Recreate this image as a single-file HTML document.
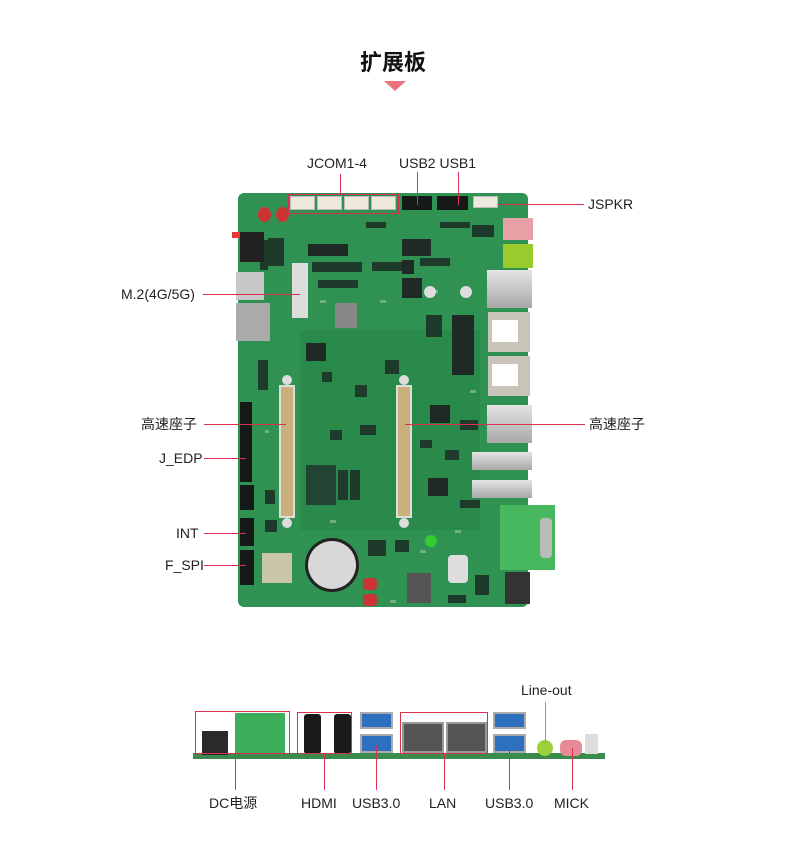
<!DOCTYPE html>
<html><head><meta charset="utf-8"><style>
body{margin:0;width:790px;height:850px;background:#fff;position:relative;overflow:hidden;font-family:"Liberation Sans","Noto Sans CJK SC",sans-serif;}
div{position:absolute;box-sizing:border-box;}
.t{font-size:14px;color:#222;white-space:nowrap;line-height:16px;}
.h{height:1px;background:#d8304f;}
.v{width:1px;background:#d8304f;}
.box{border:1px solid #d8304f;}
.chip{background:#1f2a26;}
.hdr{background:#151a18;}
.silver{background:linear-gradient(#e4e4e4,#a8a8a8);}
.wh{background:#eee9dc;border:1px solid #bbb;}
</style></head><body>
<div class="t" style="left:360px;top:50px;font-size:22px;font-weight:bold;line-height:26px;color:#111;">扩展板</div>
<div style="left:384px;top:81px;width:0;height:0;border-left:11px solid transparent;border-right:11px solid transparent;border-top:10px solid #e9737f;"></div>

<!-- board -->
<div style="left:238px;top:193px;width:290px;height:414px;background:#2f9152;border-radius:6px;"></div>
<div style="left:300px;top:330px;width:180px;height:200px;background:#2a8a4c;"></div>
<svg style="position:absolute;left:0;top:0" width="790" height="850">
<g fill="#1d3a2a">
<rect x="312" y="262" width="50" height="10"/><rect x="318" y="280" width="40" height="8"/>
<rect x="372" y="262" width="30" height="9"/><rect x="420" y="258" width="30" height="8"/>
<rect x="260" y="240" width="8" height="30"/><rect x="268" y="238" width="16" height="28"/>
<rect x="366" y="222" width="20" height="6"/><rect x="440" y="222" width="30" height="6"/>
<rect x="472" y="225" width="22" height="12"/><rect x="426" y="315" width="16" height="22"/>
<rect x="385" y="360" width="14" height="14"/><rect x="322" y="372" width="10" height="10"/>
<rect x="355" y="385" width="12" height="12"/><rect x="420" y="440" width="12" height="8"/>
<rect x="445" y="450" width="14" height="10"/><rect x="460" y="500" width="20" height="8"/>
<rect x="338" y="470" width="10" height="30"/><rect x="350" y="470" width="10" height="30"/>
<rect x="368" y="540" width="18" height="16"/><rect x="395" y="540" width="14" height="12"/>
<rect x="475" y="575" width="14" height="20"/><rect x="258" y="360" width="10" height="30"/>
<rect x="265" y="520" width="12" height="12"/><rect x="265" y="490" width="10" height="14"/>
<rect x="460" y="420" width="18" height="10"/><rect x="448" y="595" width="18" height="8"/>
<rect x="330" y="430" width="12" height="10"/><rect x="360" y="425" width="16" height="10"/>
</g>
<g fill="#9fc3a8" opacity="0.6">
<rect x="320" y="300" width="6" height="3"/><rect x="380" y="300" width="6" height="3"/><rect x="432" y="290" width="6" height="3"/>
<rect x="470" y="390" width="6" height="3"/><rect x="455" y="530" width="6" height="3"/><rect x="330" y="520" width="6" height="3"/>
<rect x="265" y="430" width="4" height="3"/><rect x="420" y="550" width="6" height="3"/><rect x="390" y="600" width="6" height="3"/>
</g>
<circle cx="430" cy="292" r="6" fill="#ddd"/><circle cx="466" cy="292" r="6" fill="#ddd"/>
<circle cx="287" cy="380" r="5" fill="#ddd"/><circle cx="404" cy="380" r="5" fill="#ddd"/>
<circle cx="287" cy="523" r="5" fill="#ddd"/><circle cx="404" cy="523" r="5" fill="#ddd"/>
<circle cx="431" cy="541" r="6" fill="#3c3"/>
</svg>
<!-- JCOM connectors -->
<div class="wh" style="left:290px;top:196px;width:25px;height:14px"></div>
<div class="wh" style="left:317px;top:196px;width:25px;height:14px"></div>
<div class="wh" style="left:344px;top:196px;width:25px;height:14px"></div>
<div class="wh" style="left:371px;top:196px;width:25px;height:14px"></div>
<div class="hdr" style="left:402px;top:196px;width:30px;height:14px"></div>
<div class="hdr" style="left:437px;top:196px;width:31px;height:14px"></div>
<div class="wh" style="left:473px;top:196px;width:25px;height:12px"></div>
<!-- audio jacks -->
<div style="left:503px;top:218px;width:30px;height:22px;background:#e7a0a6;"></div>
<div style="left:503px;top:244px;width:30px;height:24px;background:#9acb2c;"></div>
<!-- right IO -->
<div class="silver" style="left:487px;top:270px;width:45px;height:38px;"></div>
<div style="left:488px;top:312px;width:42px;height:40px;background:#c9c4b8;"></div>
<div style="left:492px;top:320px;width:26px;height:22px;background:#fff;"></div>
<div style="left:488px;top:356px;width:42px;height:40px;background:#c9c4b8;"></div>
<div style="left:492px;top:364px;width:26px;height:22px;background:#fff;"></div>
<div class="silver" style="left:487px;top:405px;width:45px;height:38px;"></div>
<div class="silver" style="left:472px;top:452px;width:60px;height:18px;"></div>
<div class="silver" style="left:472px;top:480px;width:60px;height:18px;"></div>
<div style="left:500px;top:505px;width:55px;height:65px;background:#47b85f;"></div>
<div style="left:540px;top:518px;width:12px;height:40px;background:#bbb;border-radius:4px"></div>
<div style="left:505px;top:572px;width:25px;height:32px;background:#333;"></div>
<!-- left side -->
<div style="left:236px;top:272px;width:28px;height:28px;background:#c8c8c8;"></div>
<div style="left:236px;top:303px;width:34px;height:38px;background:#aaa;"></div>
<div style="left:232px;top:232px;width:10px;height:6px;background:#e33;"></div>
<div style="left:240px;top:232px;width:24px;height:30px;background:#222;"></div>
<div style="left:258px;top:207px;width:13px;height:15px;background:#c33;border-radius:50%"></div>
<div style="left:276px;top:207px;width:13px;height:15px;background:#c33;border-radius:50%"></div>
<div style="left:292px;top:263px;width:16px;height:55px;background:#ddd;"></div>
<div class="hdr" style="left:240px;top:402px;width:12px;height:80px;"></div>
<div class="hdr" style="left:240px;top:485px;width:14px;height:25px;"></div>
<div class="hdr" style="left:240px;top:518px;width:14px;height:28px;"></div>
<div class="hdr" style="left:240px;top:550px;width:14px;height:35px;"></div>
<div style="left:262px;top:553px;width:30px;height:30px;background:#c9c5a8;"></div>
<!-- chips -->
<div class="chip" style="left:308px;top:244px;width:40px;height:12px"></div>
<div class="chip" style="left:402px;top:239px;width:29px;height:17px"></div>
<div class="chip" style="left:402px;top:260px;width:12px;height:14px"></div>
<div class="chip" style="left:402px;top:278px;width:20px;height:20px"></div>
<div class="chip" style="left:335px;top:303px;width:22px;height:25px;background:#888"></div>
<div class="chip" style="left:306px;top:343px;width:20px;height:18px"></div>
<div class="chip" style="left:452px;top:315px;width:22px;height:60px"></div>
<div class="chip" style="left:430px;top:405px;width:20px;height:18px"></div>
<div class="chip" style="left:428px;top:478px;width:20px;height:18px"></div>
<div class="chip" style="left:306px;top:465px;width:30px;height:40px;background:#243"></div>
<div style="left:407px;top:573px;width:24px;height:30px;background:#555;"></div>
<div style="left:448px;top:555px;width:20px;height:28px;background:#ddd;border-radius:4px"></div>
<!-- high speed sockets -->
<div style="left:279px;top:385px;width:16px;height:133px;background:#c9b07a;border:2px solid #ddd"></div>
<div style="left:396px;top:385px;width:16px;height:133px;background:#c9b07a;border:2px solid #ddd"></div>
<!-- battery -->
<div style="left:305px;top:538px;width:54px;height:54px;background:#222;border-radius:50%"></div>
<div style="left:308px;top:541px;width:48px;height:48px;background:#d8d8d8;border-radius:50%"></div>
<div style="left:363px;top:578px;width:14px;height:12px;background:#c33;border-radius:4px"></div>
<div style="left:363px;top:594px;width:14px;height:12px;background:#c33;border-radius:4px"></div>

<!-- labels top -->
<div class="t" style="left:307px;top:155px;">JCOM1-4</div>
<div class="t" style="left:399px;top:155px;">USB2 USB1</div>
<div class="box" style="left:288px;top:194px;width:111px;height:20px;"></div>
<div class="v" style="left:340px;top:174px;height:20px;"></div>
<div class="v" style="left:417px;top:172px;height:33px;"></div>
<div class="v" style="left:458px;top:172px;height:33px;"></div>
<div class="h" style="left:498px;top:204px;width:86px;"></div>
<div class="t" style="left:588px;top:196px;">JSPKR</div>
<div class="t" style="left:121px;top:286px;">M.2(4G/5G)</div>
<div class="h" style="left:203px;top:294px;width:97px;"></div>
<div class="t" style="left:141px;top:416px;">高速座子</div>
<div class="h" style="left:204px;top:424px;width:82px;"></div>
<div class="h" style="left:405px;top:424px;width:180px;"></div>
<div class="t" style="left:589px;top:416px;">高速座子</div>
<div class="t" style="left:159px;top:450px;">J_EDP</div>
<div class="h" style="left:204px;top:458px;width:42px;"></div>
<div class="t" style="left:176px;top:525px;">INT</div>
<div class="h" style="left:204px;top:533px;width:42px;"></div>
<div class="t" style="left:165px;top:557px;">F_SPI</div>
<div class="h" style="left:204px;top:565px;width:42px;"></div>

<!-- bottom strip -->
<div style="left:193px;top:753px;width:412px;height:6px;background:#3a8b4c;"></div>
<div style="left:202px;top:731px;width:26px;height:24px;background:#2a2a2a;"></div>
<div style="left:235px;top:713px;width:50px;height:40px;background:#3cae5a;"></div>
<div style="left:304px;top:714px;width:17px;height:40px;background:#1a1a1a;border-radius:3px"></div>
<div style="left:334px;top:714px;width:17px;height:40px;background:#1a1a1a;border-radius:3px"></div>
<div style="left:360px;top:712px;width:33px;height:17px;background:#2f6fc0;border:2px solid #aaa"></div>
<div style="left:360px;top:734px;width:33px;height:19px;background:#2f6fc0;border:2px solid #aaa"></div>
<div style="left:402px;top:722px;width:42px;height:31px;background:#555;border:2px solid #999"></div>
<div style="left:446px;top:722px;width:41px;height:31px;background:#555;border:2px solid #999"></div>
<div style="left:493px;top:712px;width:33px;height:17px;background:#2f6fc0;border:2px solid #aaa"></div>
<div style="left:493px;top:734px;width:33px;height:19px;background:#2f6fc0;border:2px solid #aaa"></div>
<div style="left:537px;top:740px;width:16px;height:16px;background:#9cd03a;border-radius:50%"></div>
<div style="left:560px;top:740px;width:22px;height:16px;background:#e78a98;border-radius:6px"></div>
<div style="left:585px;top:734px;width:13px;height:20px;background:#ddd;"></div>
<div class="box" style="left:195px;top:711px;width:95px;height:43px;"></div>
<div class="box" style="left:297px;top:712px;width:55px;height:42px;"></div>
<div class="box" style="left:400px;top:712px;width:88px;height:42px;"></div>
<div class="v" style="left:235px;top:754px;height:36px;"></div>
<div class="v" style="left:324px;top:754px;height:36px;"></div>
<div class="v" style="left:376px;top:746px;height:44px;"></div>
<div class="v" style="left:444px;top:754px;height:36px;"></div>
<div class="v" style="left:509px;top:746px;height:44px;"></div>
<div class="v" style="left:545px;top:702px;height:42px;background:#e9737f"></div>
<div class="v" style="left:572px;top:748px;height:42px;"></div>
<div class="t" style="left:521px;top:682px;">Line-out</div>
<div class="t" style="left:209px;top:795px;">DC电源</div>
<div class="t" style="left:301px;top:795px;">HDMI</div>
<div class="t" style="left:352px;top:795px;">USB3.0</div>
<div class="t" style="left:429px;top:795px;">LAN</div>
<div class="t" style="left:485px;top:795px;">USB3.0</div>
<div class="t" style="left:554px;top:795px;">MICK</div>
</body></html>
